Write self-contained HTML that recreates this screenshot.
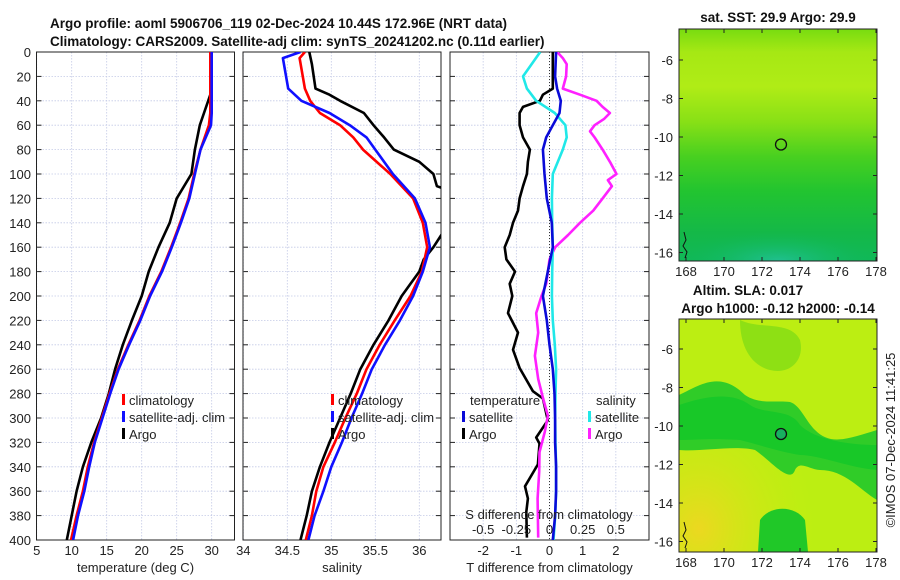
<!DOCTYPE html>
<html><head><meta charset="utf-8">
<style>
body{margin:0;background:#fff;}
svg{display:block;font-family:"Liberation Sans","DejaVu Sans",sans-serif;}
.t{font-size:13px;fill:#222;}
.b{font-size:13.5px;font-weight:bold;fill:#111;}
</style></head>
<body>
<svg id="c" width="900" height="580" viewBox="0 0 900 580">
<defs>
<clipPath id="cp1"><rect x="36.5" y="52" width="198" height="488"/></clipPath>
<clipPath id="cp2"><rect x="243" y="52" width="198" height="488"/></clipPath>
<clipPath id="cp3"><rect x="450" y="52" width="199" height="488"/></clipPath>
<linearGradient id="sst" x1="0" y1="0" x2="0" y2="1">
<stop offset="0" stop-color="#78dc10"/><stop offset="0.1" stop-color="#a6e814"/><stop offset="0.25" stop-color="#b0ec16"/>
<stop offset="0.4" stop-color="#88e016"/><stop offset="0.55" stop-color="#48d020"/><stop offset="0.7" stop-color="#22c430"/>
<stop offset="0.88" stop-color="#14b848"/><stop offset="1" stop-color="#10b858"/></linearGradient>
<radialGradient id="teal" cx="0.5" cy="1" r="0.5"><stop offset="0" stop-color="#20c090"/><stop offset="1" stop-color="#10b858" stop-opacity="0"/></radialGradient>
<radialGradient id="yel" cx="0.1" cy="0.9" r="0.6"><stop offset="0" stop-color="#ecd820"/><stop offset="1" stop-color="#c8ee10" stop-opacity="0"/></radialGradient>
</defs>
<g id="titles">
<text class="b" x="50" y="28">Argo profile: aoml 5906706_119 02-Dec-2024 10.44S 172.96E (NRT data)</text>
<text class="b" x="50" y="46">Climatology: CARS2009. Satellite-adj clim: synTS_20241202.nc (0.11d earlier)</text>
</g>
<g id="g1"></g><g id="g2"></g><g id="g3"></g>
<g id="maps">
<g>
<rect x="679" y="29" width="198" height="232" fill="url(#sst)"/>
<rect x="679" y="200" width="198" height="61" fill="url(#teal)"/>
<rect x="679" y="29" width="198" height="232" fill="none" stroke="#222"/>
<circle cx="781" cy="144.5" r="5.5" fill="none" stroke="#111" stroke-width="1.3"/>
<path d="M684 232 l2 8 -3 6 4 6 -2 6" stroke="#111" fill="none"/>
<text class="b" x="778" y="22" text-anchor="middle">sat. SST: 29.9 Argo: 29.9</text>
</g>
<g>
<rect x="679" y="319" width="198" height="233" fill="#bcee12"/>
<rect x="679" y="319" width="198" height="233" fill="url(#yel)"/>
<path d="M679 395 C700 385 720 370 745 395 C760 405 775 400 790 402 C800 405 805 420 815 430 C830 445 845 440 877 430 L877 500 C860 490 845 470 820 470 C810 470 800 460 795 470 C790 485 770 460 755 450 C735 445 700 452 679 450 Z" fill="#30cc28"/>
<path d="M679 405 C700 398 730 390 750 405 C765 415 790 408 800 425 C815 440 850 445 877 445 L877 470 C850 468 820 455 800 455 C780 452 760 445 740 440 C710 438 695 440 679 440 Z" fill="#18c828"/>
<path d="M760 520 C770 505 795 505 805 520 L808 552 L758 552 Z" fill="#20c828"/>
<path d="M740 320 C760 330 790 320 800 340 C805 360 790 375 770 370 C750 365 740 345 740 320Z" fill="#8ee014"/>
<rect x="679" y="319" width="198" height="233" fill="none" stroke="#222"/>
<circle cx="781" cy="434" r="5.5" fill="#18b060" stroke="#111" stroke-width="1.3"/>
<path d="M684 522 l2 8 -3 6 4 6 -2 6" stroke="#111" fill="none"/>
<text class="b" x="748" y="295" text-anchor="middle">Altim. SLA: 0.017</text>
<text class="b" x="778" y="313" text-anchor="middle">Argo h1000: -0.12 h2000: -0.14</text>
</g>
<text class="t" transform="translate(895,440) rotate(-90)" text-anchor="middle">©IMOS 07-Dec-2024 11:41:25</text>
</g>
</svg>
<script>
// ---- data ----
const depthsT = [0,20,40,50,60,80,100,120,140,160,180,200,220,240,260,280,300,320,340,360,380,400];
const climT   = [29.8,29.8,29.8,29.8,29.6,28.4,27.5,26.7,25.5,24.2,22.8,21.1,19.7,18.1,16.6,15.4,14.3,13.2,12.3,11.6,10.7,9.9];
const satT    = [30.0,30.0,30.0,30.0,29.9,28.4,27.6,26.8,25.6,24.3,22.9,21.2,19.8,18.2,16.7,15.5,14.4,13.3,12.5,11.8,10.9,10.2];
const argoDepthT = [0,20,35,40,50,60,80,100,120,140,160,180,200,220,240,260,280,300,320,340,360,380,400];
const argoT   = [29.8,29.8,29.8,29.5,28.9,28.3,27.6,27.1,25.0,24.0,22.4,21.0,20.0,18.6,17.3,16.2,15.3,14.2,12.8,11.6,10.7,10.0,9.3];
const depthsS = [0,5,30,40,50,60,70,80,100,120,140,160,180,200,220,240,260,280,300,320,340,360,380,400];
const climS   = [34.70,34.64,34.70,34.76,34.87,35.10,35.25,35.36,35.67,35.93,36.04,36.09,36.03,35.90,35.72,35.55,35.40,35.29,35.16,35.04,34.91,34.83,34.78,34.71];
const satS    = [34.65,34.45,34.51,34.66,34.98,35.21,35.40,35.50,35.70,35.95,36.07,36.12,36.04,35.93,35.78,35.61,35.46,35.35,35.23,35.12,35.00,34.91,34.81,34.74];
const argoDepthS = [0,10,30,35,40,50,60,70,80,90,100,110,115,130,150,160,170,180,190,200,220,240,260,280,300,320,340,360,380,400];
const argoS   = [34.75,34.78,34.82,34.98,35.10,35.37,35.48,35.60,35.71,36.00,36.16,36.20,36.40,36.45,36.25,36.16,36.05,36.00,35.90,35.80,35.65,35.48,35.33,35.22,35.10,34.98,34.87,34.78,34.72,34.65];
const diffDepth = [0,20,30,40,50,60,70,80,100,120,140,160,180,200,220,240,260,280,300,320,340,360,380,400];
const satTdiff  = [0.2,0.17,0.23,0.34,0.3,0.1,-0.1,-0.2,-0.15,-0.08,0.07,0.1,-0.05,-0.2,-0.08,0.0,0.1,0.15,0.17,0.17,0.2,0.2,0.17,0.1];
const satSdiff  = [-0.07,-0.2,-0.17,-0.1,0.04,0.12,0.13,0.1,0.025,0.018,0.02,0.025,0.02,0.018,0.025,0.04,0.05,0.045,0.043,0.045,0.05,0.05,0.043,0.03];
const argoDiffDepth = [0,30,35,40,45,50,60,70,80,90,100,110,120,130,140,150,160,170,180,190,200,214,230,244,259,278,284,302,316,321,338,356,366,377,398];
const argoTdiff = [0.1,0.1,-0.2,-0.29,-0.8,-0.9,-0.9,-0.8,-0.59,-0.65,-0.68,-0.8,-0.9,-0.95,-1.1,-1.2,-1.35,-1.3,-1.04,-1.2,-1.12,-1.25,-0.95,-1.1,-0.9,-0.5,-0.2,-0.05,-0.4,-0.3,-0.35,-0.74,-0.65,-0.7,-0.68];
const argoSDepth = [0,5,10,20,30,35,40,45,50,55,60,65,70,80,90,100,105,110,120,130,140,150,160,170,180,190,200,214,230,249,268,284,298,311,328,344,366,398];
const argoSdiff = [0.058,0.1,0.13,0.125,0.1,0.23,0.355,0.4,0.455,0.41,0.34,0.305,0.34,0.4,0.455,0.505,0.44,0.47,0.4,0.33,0.23,0.14,0.043,0,-0.012,-0.025,-0.06,-0.1,-0.085,-0.11,-0.085,-0.048,-0.012,-0.035,-0.075,-0.078,-0.09,-0.085];
const depthTicks = [0,20,40,60,80,100,120,140,160,180,200,220,240,260,280,300,320,340,360,380,400];
const tTicks = [5,10,15,20,25,30];
const sTicks = [34,34.5,35,35.5,36];
const dTicks = [-2,-1,0,1,2];
const sdTicks = [-0.5,-0.25,0,0.25,0.5];
const sdTickLabels = ['-0.5','-0.25','0','0.25','0.5'];

// ---- scales ----
const NS='http://www.w3.org/2000/svg';
const yD = d => 52 + d*1.22;
const xT = t => 36.7 + (t-5)*7;
const xS = s => 243.3 + (s-34)*88;
const xD = v => 549.5 + v*33.17;
const xSD = s => xD(s*4);
function mk(tag, parent, attrs){const e=document.createElementNS(NS,tag);for(const k in attrs)e.setAttribute(k,attrs[k]);parent.appendChild(e);return e;}
function txt(parent,x,y,s,anchor,cls){const e=mk('text',parent,{x:x,y:y,'text-anchor':anchor||'middle',class:cls||'t'});e.textContent=s;return e;}

function panel(g, x0, x1, xs, ticks, labels, xtitle){
  const box = mk('rect', g, {x:x0,y:52,width:x1-x0,height:488,fill:'#fff'});
  
  
  depthTicks.forEach(d=>{
    const l=mk('line',g,{x1:x0,x2:x1,y1:yD(d),y2:yD(d),stroke:'#c4cae6','stroke-width':0.8,'stroke-dasharray':'1.5,1.5'});
    
    
    mk('line',g,{x1:x0,x2:x0+5,y1:yD(d),y2:yD(d),stroke:'#222'});
    mk('line',g,{x1:x1-5,x2:x1,y1:yD(d),y2:yD(d),stroke:'#222'});
  });
  ticks.forEach((v,i)=>{
    const X=xs(v);
    const l=mk('line',g,{x1:X,x2:X,y1:52,y2:540,stroke:'#c4cae6','stroke-width':0.8,'stroke-dasharray':'1.5,1.5'});
    
    
    const lb=txt(g,X,555,labels[i]);
    
    
  });
  const fr=mk('rect',g,{x:x0,y:52,width:x1-x0,height:488,fill:'none',stroke:'#222','stroke-width':1});
  
  
  const xt=txt(g,(x0+x1)/2,572,xtitle);
  
  
}
function line(g, xs, vals, depths, color, clip, name, w){
  const p=mk('polyline',g,{points:vals.map((v,i)=>xs(v).toFixed(1)+','+yD(depths[i]).toFixed(1)).join(' '),fill:'none',stroke:color,'stroke-width':w||2.6,'stroke-linejoin':'round','clip-path':'url(#'+clip+')'});
  
  
}
function legItem(g,x,y,color,label){
  const m=mk('rect',g,{x:x,y:y-11,width:3,height:11,fill:color});
  
  
  const t=txt(g,x+7,y,label,'start');
  
  
}

const g1=document.getElementById('g1'),g2=document.getElementById('g2'),g3=document.getElementById('g3');
panel(g1,36.5,234.5,xT,tTicks,tTicks.map(String),'temperature (deg C)');
depthTicks.forEach(d=>{const l=txt(g1,31,yD(d)+5,String(d),'end');
  
  });
line(g1,xT,argoT,argoDepthT,'#000','cp1','argo-temperature-line');
line(g1,xT,climT,depthsT,'#ff0000','cp1','climatology-temperature-line');
line(g1,xT,satT,depthsT,'#1010ff','cp1','satellite-temperature-line');
legItem(g1,122,405,'#ff0000','climatology');
legItem(g1,122,422,'#1010ff','satellite-adj. clim');
legItem(g1,122,439,'#000','Argo');

panel(g2,243,441,xS,sTicks,sTicks.map(String),'salinity');
line(g2,xS,argoS,argoDepthS,'#000','cp2','argo-salinity-line');
line(g2,xS,climS,depthsS,'#ff0000','cp2','climatology-salinity-line');
line(g2,xS,satS,depthsS,'#1010ff','cp2','satellite-salinity-line');
legItem(g2,331,405,'#ff0000','climatology');
legItem(g2,331,422,'#1010ff','satellite-adj. clim');
legItem(g2,331,439,'#000','Argo');

panel(g3,450,649,xD,dTicks,dTicks.map(String),'T difference from climatology');
const zl=mk('line',g3,{x1:xD(0),x2:xD(0),y1:52,y2:540,stroke:'#333','stroke-width':1,'stroke-dasharray':'1,2'});


line(g3,xD,argoTdiff,argoDiffDepth,'#000','cp3','argo-temperature-diff-line');
line(g3,xSD,argoSdiff,argoSDepth,'#ff20ff','cp3','argo-salinity-diff-line');
line(g3,xSD,satSdiff,diffDepth,'#20e8e8','cp3','satellite-salinity-diff-line');
line(g3,xD,satTdiff,diffDepth,'#0a0ad8','cp3','satellite-temperature-diff-line');
const lt=txt(g3,470,405,'temperature','start');


legItem(g3,462,422,'#0a0ad8','satellite');
legItem(g3,462,439,'#000','Argo');
const ls=txt(g3,596,405,'salinity','start');


legItem(g3,588,422,'#20e8e8','satellite');
legItem(g3,588,439,'#ff20ff','Argo');
const st=txt(g3,549,519,'S difference from climatology');


sdTicks.forEach((v,i)=>{const l=txt(g3,xSD(v),534,sdTickLabels[i]);
  
  });

// map axes
const mg=document.getElementById('maps');
const lonTicks=[168,170,172,174,176,178];
const latTicks=[-6,-8,-10,-12,-14,-16];
[[29,261,60],[319,552,349]].forEach(([top,bot,y6])=>{
  lonTicks.forEach(l=>{const X=686+(l-168)*19;
    mk('line',mg,{x1:X,x2:X,y1:bot,y2:bot-4,stroke:'#222'});
    mk('line',mg,{x1:X,x2:X,y1:top,y2:top+4,stroke:'#222'});
    const t=txt(mg,X,bot+15,String(l));
    
    });
  latTicks.forEach(l=>{const Y=y6+(-6-l)*19.25;
    mk('line',mg,{x1:679,x2:683,y1:Y,y2:Y,stroke:'#222'});
    mk('line',mg,{x1:873,x2:877,y1:Y,y2:Y,stroke:'#222'});
    const t=txt(mg,673,Y+5,String(l),'end');
    
    });
});
</script>
</body></html>
